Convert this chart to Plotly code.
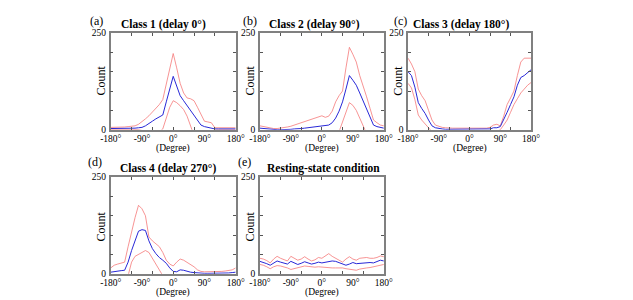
import plotly.graph_objects as go

W, H = 633, 300

# Phase axis (degrees), 10-degree bins
deg = list(range(-180, 181, 10))

# Panel titles / labels
panel_labels = ["(a)", "(b)", "(c)", "(d)", "(e)"]
panel_titles = ["Class 1 (delay 0°)", "Class 2 (delay 90°)", "Class 3 (delay 180°)",
                "Class 4 (delay 270°)", "Resting-state condition"]
x_tickvals = [-180, -90, 0, 90, 180]
x_ticktext = ["-180°", "-90°", "0°", "90°", "180°"]
y_tickvals = [0, 250]
y_ticktext = ["0", "250"]

# (a) Class 1
mean_a = [3, 3, 3, 3, 3, 4, 4, 4, 5, 6, 10, 15, 22, 28, 33, 38, 72, 105, 138, 113, 88, 75, 62, 48,
          36, 24, 12, 8, 6, 3, 2, 2, 2, 2, 2, 2, 2]
upper_a = [6, 6, 7, 7, 7, 8, 9, 10, 14, 20, 28, 36, 45, 55, 65, 78, 118, 158, 197, 160, 120, 95, 82,
           80, 75, 58, 38, 22, 20, 18, 5, 5, 5, 5, 5, 5, 5]
lower_a = [0, 0, 0, 0, 0, 0, 0, 0, 0, -2, -5, -6, -8, -8, -6, 2, 28, 58, 75, 70, 62, 52, 35, 5,
           -15, -15, -12, -8, -6, -4, -1, 0, 0, 0, 0, 0, 0]

# (b) Class 2
mean_b = [4, 3, 2, 1, 0, 0, 0, 0, 1, 1, 2, 2, 3, 4, 5, 6, 7, 8, 9, 10, 12, 18, 30, 48, 72, 105, 140,
          128, 115, 95, 75, 55, 35, 12, 8, 5, 4]
upper_b = [10, 8, 5, 4, 3, 3, 4, 5, 7, 9, 12, 15, 18, 20, 22, 25, 28, 33, 36, 32, 35, 48, 72, 88,
           100, 160, 213, 195, 175, 140, 115, 85, 55, 25, 18, 12, 10]
lower_b = [-3, -3, -3, -3, -3, -3, -4, -5, -6, -7, -8, -10, -12, -12, -14, -15, -15, -16, -18, -12,
           -12, -15, -15, -5, 20, 45, 70, 63, 50, 30, 8, -10, -15, -10, -5, -4, -3]

# (c) Class 3
mean_c = [150, 140, 110, 70, 55, 42, 25, 10, 5, 3, 2, 1, 1, 1, 1, 1, 1, 1, 1, 1, 1, 1, 1, 1, 2, 5,
          5, 8, 25, 45, 65, 85, 115, 135, 140, 148, 155]
upper_c = [185, 170, 150, 105, 88, 75, 50, 25, 12, 8, 6, 5, 4, 4, 4, 4, 4, 4, 4, 4, 4, 4, 4, 4, 6,
           12, 14, 10, 35, 65, 82, 100, 140, 175, 185, 185, 185]
lower_c = [120, 108, 78, 38, 25, 15, 3, -5, -6, -5, -4, -3, -2, -2, -2, -2, -2, -2, -2, -2, -2, -2,
           -2, -2, -2, -3, -5, 0, 12, 25, 45, 65, 80, 95, 105, 115, 122]

# (d) Class 4
mean_d = [4, 6, 7, 8, 9, 30, 60, 85, 110, 114, 112, 85, 65, 52, 42, 35, 27, 15, 6, 5, 10, 9, 6, 4,
          3, 2, 1, 1, 1, 1, 1, 1, 2, 2, 2, 3, 4]
upper_d = [15, 22, 25, 27, 30, 70, 110, 145, 177, 168, 150, 95, 85, 78, 70, 55, 35, 25, 20, 30, 38,
           35, 30, 25, 18, 10, 6, 5, 5, 5, 5, 5, 6, 7, 8, 10, 15]
lower_d = [-10, -10, -10, -10, -10, -5, 30, 45, 50, 55, 60, 55, 40, 22, 8, -5, -10, -10, -10, -10,
           -10, -10, -10, -10, -10, -8, -6, -4, -4, -4, -4, -4, -4, -4, -4, -4, -7]

# (e) Resting state
mean_e = [32, 30, 26, 22, 28, 33, 30, 27, 25, 32, 28, 24, 27, 31, 28, 25, 27, 30, 28, 30, 32, 33,
          32, 29, 26, 22, 25, 29, 26, 27, 28, 29, 29, 28, 31, 35, 33]
upper_e = [40, 38, 34, 28, 38, 45, 40, 36, 33, 45, 40, 35, 38, 44, 38, 33, 36, 42, 40, 45, 52, 45,
           40, 35, 30, 38, 44, 38, 35, 40, 42, 42, 40, 40, 42, 46, 44]
lower_e = [24, 22, 18, 13, 18, 21, 20, 18, 15, 11, 13, 16, 18, 20, 19, 18, 17, 18, 17, 16, 15, 15,
           15, 15, 15, 13, 12, 10, 9, 12, 14, 15, 16, 18, 20, 22, 24]

series = [(mean_a, upper_a, lower_a), (mean_b, upper_b, lower_b), (mean_c, upper_c, lower_c),
          (mean_d, upper_d, lower_d), (mean_e, upper_e, lower_e)]

# Layout geometry (pixels)
col_x = [(103, 232), (257, 385), (410, 537)]
row_y = [(29, 129), (178, 278)]
cells = [(0, 0), (0, 1), (0, 2), (1, 0), (1, 1)]
title_cx = [157, 313, 465, 162, 323]
label_cx = [88, 247, 402, 87, 241]
count_cx = [93, 247, 400]

RED = "rgb(245,120,120)"
BLUE = "rgb(40,40,215)"
AXC = "#808080"
FONT = "Liberation Serif"

fig = go.Figure()
layout = dict(width=W, height=H, margin=dict(l=0, r=0, t=0, b=0),
              paper_bgcolor="white", plot_bgcolor="white", showlegend=False,
              font=dict(family=FONT, size=10, color="black"))
annotations = []

def px(x):
    return x / W

def py(y):
    return 1 - y / H

for i, (m, u, l) in enumerate(series):
    r, c = cells[i]
    xs = "" if i == 0 else str(i + 1)
    xref, yref = "x" + xs, "y" + xs
    for vals, color, wdt in ((u, RED, 0.8), (l, RED, 0.8), (m, BLUE, 1.0)):
        fig.add_trace(go.Scatter(x=deg, y=vals, mode="lines", xaxis=xref, yaxis=yref,
                                 line=dict(color=color, width=wdt), hoverinfo="skip"))
    x0, x1 = col_x[c]
    y0, y1 = row_y[r]
    layout["xaxis" + xs] = dict(domain=[px(x0), px(x1)], anchor=yref, range=[-180, 180],
                                tickvals=x_tickvals, ticktext=x_ticktext, ticks="",
                                showline=True, linecolor=AXC, linewidth=1.5, mirror="ticks",
                                showgrid=False, zeroline=False, ticklabelstandoff=-1,
                                tickfont=dict(family=FONT, size=9.5, color="black"),
                                minor=dict(tickvals=[-120, -60, 0, 60, 120], ticks="inside",
                                           ticklen=3, tickcolor="#555", tickwidth=0.8))
    layout["yaxis" + xs] = dict(domain=[py(y1), py(y0)], anchor=xref, range=[0, 250],
                                tickvals=y_tickvals, ticktext=y_ticktext, ticks="",
                                showline=True, linecolor=AXC, linewidth=1.5, mirror="ticks",
                                showgrid=False, zeroline=False, ticklabelstandoff=1,
                                tickfont=dict(family=FONT, size=9.5, color="black"),
                                minor=dict(tickvals=[50, 100, 150, 200], ticks="inside",
                                           ticklen=3, tickcolor="#555", tickwidth=0.8))
    # title
    ty = 20 if r == 0 else 169
    annotations.append(dict(text="<b>" + panel_titles[i] + "</b>", x=px(title_cx[i]), y=py(ty),
                            xref="paper", yref="paper", showarrow=False, xanchor="center",
                            yanchor="middle", font=dict(family=FONT, size=11.5, color="black")))
    ly = 17 if r == 0 else 162
    annotations.append(dict(text=panel_labels[i], x=px(label_cx[i]), y=py(ly),
                            xref="paper", yref="paper", showarrow=False, xanchor="center",
                            yanchor="middle", font=dict(family=FONT, size=12, color="black")))
    cy = 78 if r == 0 else 229
    annotations.append(dict(text="Count", x=px(count_cx[c]), y=py(cy), textangle=-90,
                            xref="paper", yref="paper", showarrow=False, xanchor="center",
                            yanchor="middle", font=dict(family=FONT, size=12, color="black")))
    dy = 148 if r == 0 else 297
    annotations.append(dict(text="(Degree)", x=px((x0 + x1) / 2), y=py(dy),
                            xref="paper", yref="paper", showarrow=False, xanchor="center",
                            yanchor="middle", font=dict(family=FONT, size=9.5, color="black")))

layout["annotations"] = annotations
fig.update_layout(**layout)
fig.write_html("out.html")
